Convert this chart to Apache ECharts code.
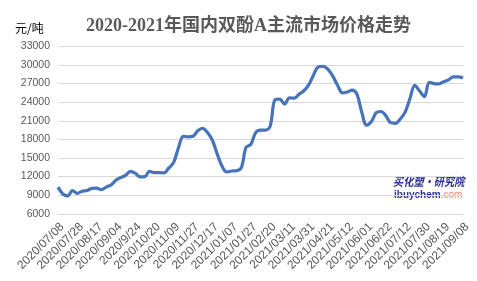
<!DOCTYPE html>
<html>
<head>
<meta charset="utf-8">
<script src="https://cdn.jsdelivr.net/npm/echarts@6/dist/echarts.min.js"></script>
<style>html,body{margin:0;padding:0;background:#fff;}#c{width:477px;height:281px;}</style>
</head>
<body>
<div id="c"></div>
<script>
const tickLabels = ['2020/07/08','2020/07/28','2020/08/17','2020/09/04','2020/9/24','2020/10/20','2020/11/09','2020/11/27','2020/12/17','2021/01/07','2021/01/27','2021/02/20','2021/03/11','2021/03/31','2021/04/21','2021/05/12','2021/06/01','2021/06/22','2021/07/12','2021/07/30','2021/08/19','2021/09/08'];
// price readings, 4 per label interval (元/吨)
const prices = [
  10300, 9200, 8900, 9750,
  9300, 9650, 9750, 10100,
  10150, 9900, 10300, 10650,
  11400, 11850, 12200, 12850,
  12550, 11950, 12000, 12850,
  12650, 12650, 12600, 13400,
  14300, 16700, 18500, 18400,
  18500, 19400, 19800, 19100,
  17900, 15700, 13700, 12750,
  12900, 12950, 13400, 16700,
  17200, 19100, 19500, 19500,
  20100, 24400, 24500, 23700,
  24700, 24650, 25300, 25850,
  26800, 28400, 29700, 29800,
  29300, 28200, 26700, 25500,
  25650, 25950, 25300, 22400,
  20300, 20900, 22300, 22500,
  21800, 20700, 20600, 21300,
  22400, 24600, 26700, 25800,
  24900, 27200, 27000, 26950,
  27300, 27600, 28100, 28100,
  27900
];
const stepsPerLabel = 4;
const yMin = 6000, yMax = 33000, yStep = 3000;

const xData = [];
tickLabels.forEach((t, i) => {
  xData.push(t);
  if (i < tickLabels.length - 1) {
    for (let k = 1; k < stepsPerLabel; k++) xData.push(t + '#' + k);
  }
});

const chart = echarts.init(document.getElementById('c'), null, {renderer: 'canvas'});
chart.setOption({
  animation: false,
  backgroundColor: '#fff',
  title: {
    text: '2020-2021年国内双酚A主流市场价格走势',
    left: 81,
    top: 12,
    textStyle: {fontFamily: 'Liberation Serif, "Noto Sans CJK SC"', fontWeight: 'bold', fontSize: 18, color: '#595959'}
  },
  grid: {left: 58, right: 14, top: 46.4, bottom: 67.2, containLabel: false},
  xAxis: {
    type: 'category',
    data: xData,
    boundaryGap: false,
    axisLine: {show: true, lineStyle: {color: '#d9d9d9', width: 1}},
    axisTick: {show: false},
    splitLine: {show: false},
    axisLabel: {
      interval: stepsPerLabel - 1,
      rotate: 45,
      margin: 7,
      verticalAlign: 'top',
      fontSize: 12,
      fontFamily: 'Liberation Sans, Arial, sans-serif',
      color: '#595959'
    }
  },
  yAxis: {
    type: 'value',
    min: yMin, max: yMax, interval: yStep,
    axisLine: {show: false},
    axisTick: {show: false},
    splitLine: {lineStyle: {color: '#d9d9d9', width: 1}},
    axisLabel: {margin: 8, fontSize: 10.5, fontFamily: 'Liberation Sans, Arial, sans-serif', color: '#595959', formatter: v => String(v)}
  },
  series: [{
    type: 'line',
    data: prices,
    smooth: 0.35,
    showSymbol: false,
    lineStyle: {color: '#4673bb', width: 3.2},
    itemStyle: {color: '#4673bb'}
  }],
  graphic: [
    {type: 'text', left: 15, top: 22, style: {text: '元/吨', fontSize: 12, fontFamily: '"Noto Sans CJK SC", sans-serif', fill: '#000'}},
    {type: 'text', x: 393, y: 175, scaleX: 0.85, style: {text: '买化塑·研究院', fontSize: 12, fontWeight: 'bold', fontStyle: 'italic', fontFamily: '"Noto Sans CJK SC", sans-serif', fill: '#2e3192'}},
    {type: 'text', left: 394, top: 190, style: {
      text: '{a|ibuychem}{b|.com}',
      rich: {
        a: {fontSize: 10, fontWeight: 'bold', fontFamily: 'Liberation Sans, Arial, sans-serif', fill: '#2e3192', color: '#2e3192'},
        b: {fontSize: 10, fontFamily: 'Liberation Sans, Arial, sans-serif', fill: '#f08a5d', color: '#f08a5d'}
      }
    }}
  ]
});
</script>
</body>
</html>
